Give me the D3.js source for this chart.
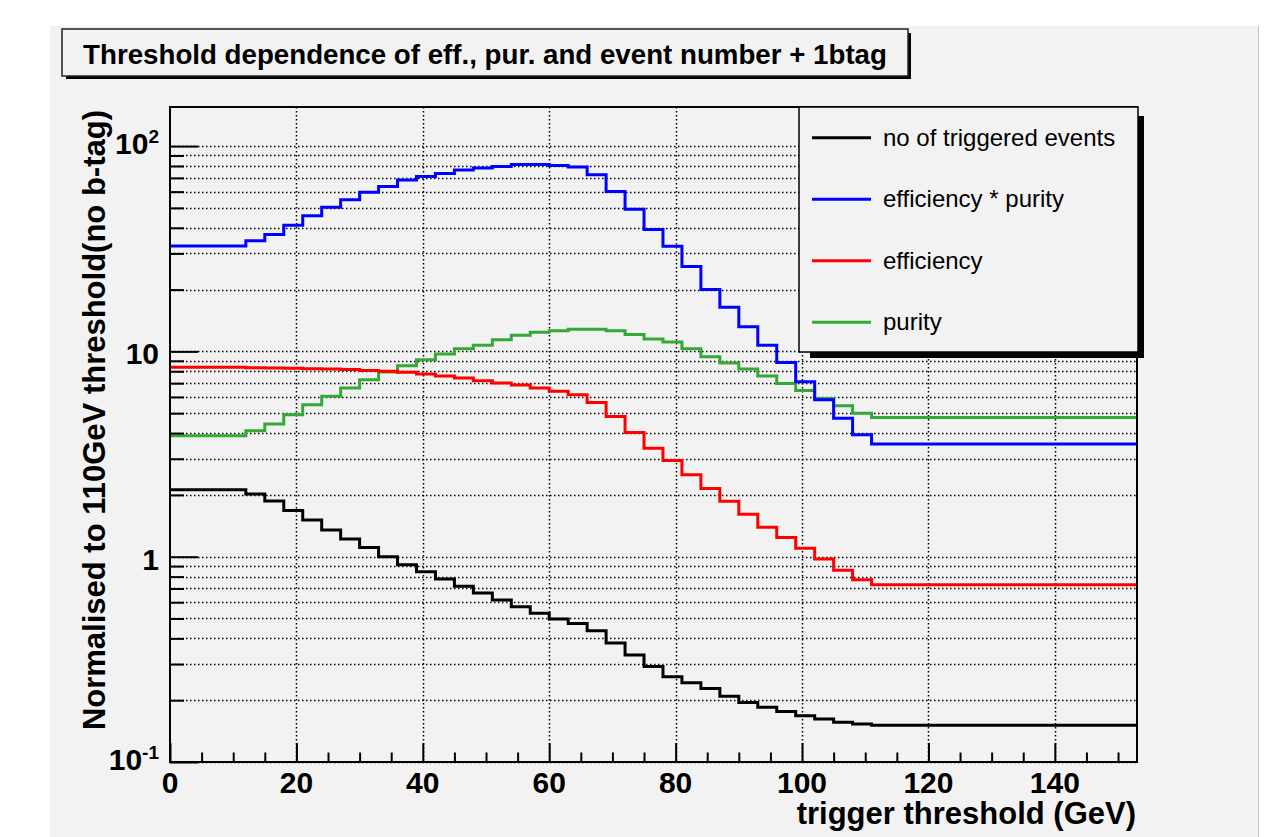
<!DOCTYPE html>
<html>
<head>
<meta charset="utf-8">
<script src="https://cdn.jsdelivr.net/npm/d3@7/dist/d3.min.js"></script>
<style>
	body { margin: 0; background: #fff; }
	svg { display: block; font-family: "Liberation Sans", Arial, Helvetica, sans-serif; }
</style>
</head>
<body>
<div class="graphic"></div>
<script>
// bin edges in GeV, first and last stretch are flat so they are one segment each
var binEdges = [0, 12, 15, 18, 21, 24, 27, 30, 33, 36, 39, 42, 45, 48, 51, 54, 57, 60, 63, 66,
	69, 72, 75, 78, 81, 84, 87, 90, 93, 96, 99, 102, 105, 108, 111, 153]

var nTriggered = [2.12, 2.02, 1.87, 1.68, 1.51, 1.35, 1.22, 1.11, 1.00, 0.914, 0.845, 0.778,
	0.717, 0.665, 0.615, 0.571, 0.530, 0.497, 0.473, 0.436, 0.380, 0.332, 0.292, 0.260, 0.243,
	0.228, 0.209, 0.195, 0.185, 0.176, 0.168, 0.162, 0.156, 0.153, 0.151]
var effPurity = [32.6, 34.6, 37.1, 41.1, 45.8, 50.3, 54.8, 59.5, 63.6, 68.3, 71.0, 73.6, 76.4,
	78.2, 79.6, 81.4, 81.4, 80.5, 79.1, 72.6, 60.1, 49.2, 39.2, 32.5, 25.9, 20.0, 16.4, 13.2,
	10.7, 8.84, 7.12, 5.82, 4.72, 3.93, 3.54]
var efficiency = [8.36, 8.32, 8.30, 8.28, 8.24, 8.20, 8.16, 8.08, 8.00, 7.91, 7.76, 7.59, 7.42,
	7.20, 7.02, 6.86, 6.64, 6.39, 6.15, 5.64, 4.82, 4.03, 3.37, 2.94, 2.51, 2.15, 1.86, 1.61,
	1.39, 1.24, 1.10, 0.974, 0.858, 0.773, 0.730]
var purity = [3.88, 4.11, 4.43, 4.92, 5.50, 6.04, 6.64, 7.28, 7.94, 8.52, 9.11, 9.71, 10.3,
	10.7, 11.4, 12.0, 12.4, 12.6, 12.8, 12.8, 12.6, 12.1, 11.5, 11.1, 10.3, 9.42, 8.77, 8.20,
	7.59, 6.98, 6.44, 5.90, 5.44, 4.99, 4.77]

var seriesNames = ['no of triggered events', 'efficiency * purity', 'efficiency', 'purity']
var seriesColors = ['#000000', '#0000ff', '#ff0000', '#36a836']

var xTickLabels = [0, 20, 40, 60, 80, 100, 120, 140]
var yTickValues = [0.1, 1, 10, 100]
var yTickBase = ['10', '1', '10', '10']
var yTickExp = ['-1', '', '', '2']

var titleText = 'Threshold dependence of eff., pur. and event number + 1btag'
var xTitle = 'trigger threshold (GeV)'
var yTitle = 'Normalised to 110GeV threshold(no b-tag)'

window.createGraphic = function() {
	var width = 1279
	var height = 837
	var frame = { left: 170, top: 107, right: 1137, bottom: 762 }
	var bg = '#f2f2f2'
	var svg = null
	var scaleX = null
	var scaleY = null

	function setupChart() {
		svg = d3.select('.graphic').append('svg')
			.attr('width', width)
			.attr('height', height)

		svg.append('rect')
			.attr('width', width).attr('height', height)
			.attr('fill', '#fff')

		// pad
		svg.append('rect')
			.attr('x', 50).attr('y', 26)
			.attr('width', 1208).attr('height', height - 26)
			.attr('fill', bg)
		svg.append('line')
			.attr('x1', 1258.5).attr('x2', 1258.5)
			.attr('y1', 26).attr('y2', height)
			.attr('stroke', '#c8c8c8')

		scaleX = d3.scaleLinear().domain([0, 153]).range([frame.left, frame.right])
		scaleY = d3.scaleLog().domain([0.1, 155]).range([frame.bottom, frame.top])
	}

	function drawGrid() {
		var g = svg.append('g')
			.attr('stroke', '#000')
			.attr('stroke-width', 1.5)
			.attr('stroke-dasharray', '1.5 2.5')

		var minorY = []
		yTickValues.forEach(function(d) {
			for (var k = 1; k < 10; k++) {
				if (d * k <= 100.001) minorY.push(d * k)
			}
		})

		g.selectAll('.gy').data(minorY).enter().append('line')
			.attr('x1', frame.left).attr('x2', frame.right)
			.attr('y1', function(d) { return Math.round(scaleY(d)) + 0.5 })
			.attr('y2', function(d) { return Math.round(scaleY(d)) + 0.5 })

		g.selectAll('.gx').data(xTickLabels.slice(1)).enter().append('line')
			.attr('x1', function(d) { return Math.round(scaleX(d)) + 0.5 })
			.attr('x2', function(d) { return Math.round(scaleX(d)) + 0.5 })
			.attr('y1', frame.top).attr('y2', frame.bottom)

		return minorY
	}

	function drawSeries() {
		var line = d3.line()
			.x(function(d) { return scaleX(d[0]) })
			.y(function(d) { return scaleY(d[1]) })
			.curve(d3.curveStepAfter)

		var all = [nTriggered, effPurity, efficiency, purity]
		// draw in the same order root did: black, green, red, blue on top roughly
		var order = [0, 3, 2, 1]
		order.forEach(function(i) {
			var vals = all[i]
			var pts = binEdges.map(function(e, j) {
				return [e, vals[Math.min(j, vals.length - 1)]]
			})
			svg.append('path')
				.attr('d', line(pts))
				.attr('fill', 'none')
				.attr('stroke', seriesColors[i])
				.attr('stroke-width', 3)
		})
	}

	function drawAxes(minorY) {
		svg.append('rect')
			.attr('x', frame.left).attr('y', frame.top)
			.attr('width', frame.right - frame.left)
			.attr('height', frame.bottom - frame.top)
			.attr('fill', 'none')
			.attr('stroke', '#000')
			.attr('stroke-width', 2)

		// y ticks point into the frame
		var yAxis = d3.axisLeft(scaleY)
			.tickValues(minorY)
			.tickSizeInner(-14)
			.tickSizeOuter(0)
			.tickFormat('')
		var ya = svg.append('g')
			.attr('transform', 'translate(' + frame.left + ',0)')
			.call(yAxis)
		ya.select('.domain').remove()
		ya.selectAll('.tick line')
			.attr('stroke-width', 2)
			.attr('x2', function(d) { return yTickValues.indexOf(d) >= 0 ? 28 : 14 })

		var minorX = scaleX.ticks(30).filter(function(d) { return d <= 153 })
		var xAxis = d3.axisBottom(scaleX)
			.tickValues(minorX)
			.tickSizeInner(-9.5)
			.tickSizeOuter(0)
			.tickFormat('')
		var xa = svg.append('g')
			.attr('transform', 'translate(0,' + frame.bottom + ')')
			.call(xAxis)
		xa.select('.domain').remove()
		xa.selectAll('.tick line')
			.attr('stroke-width', 2)
			.attr('y2', function(d) { return xTickLabels.indexOf(d) >= 0 ? -19 : -9.5 })

		// tick labels
		svg.selectAll('.xl').data(xTickLabels).enter().append('text')
			.attr('x', function(d) { return scaleX(d) })
			.attr('y', 793)
			.attr('text-anchor', 'middle')
			.attr('font-size', 30)
			.attr('font-weight', 'bold')
			.text(function(d) { return d })

		yTickValues.forEach(function(v, i) {
			var hasExp = yTickExp[i] !== ''
			var t = svg.append('text')
				.attr('x', 159)
				.attr('y', scaleY(v) + (hasExp ? 8 : 13))
				.attr('text-anchor', 'end')
				.attr('font-size', 30)
				.attr('font-weight', 'bold')
			t.append('tspan').text(yTickBase[i])
			if (hasExp) {
				t.append('tspan')
					.attr('font-size', 19)
					.attr('dy', -11)
					.text(yTickExp[i])
			}
		})

		svg.append('text')
			.attr('x', 1136).attr('y', 824)
			.attr('text-anchor', 'end')
			.attr('font-size', 31)
			.attr('font-weight', 'bold')
			.text(xTitle)

		svg.append('text')
			.attr('transform', 'translate(105,110) rotate(-90)')
			.attr('text-anchor', 'end')
			.attr('font-size', 31)
			.attr('font-weight', 'bold')
			.text(yTitle)
	}

	function drawLegend() {
		var lx = 799, ly = 107, lw = 339, lh = 245
		svg.append('rect')
			.attr('x', 810).attr('y', 116)
			.attr('width', 1144 - 810).attr('height', 358 - 116)
			.attr('fill', '#000')
		svg.append('rect')
			.attr('x', lx).attr('y', ly)
			.attr('width', lw).attr('height', lh)
			.attr('fill', bg)
			.attr('stroke', '#000')
			.attr('stroke-width', 1.5)

		var rows = svg.selectAll('.leg').data(seriesNames).enter().append('g')
			.attr('transform', function(d, i) { return 'translate(0,' + (ly + 30.7 + i * 61.5) + ')' })
		rows.append('line')
			.attr('x1', 812).attr('x2', 871)
			.attr('stroke', function(d, i) { return seriesColors[i] })
			.attr('stroke-width', 3)
		rows.append('text')
			.attr('x', 883).attr('y', 8)
			.attr('font-size', 24)
			.text(function(d) { return d })
	}

	function drawTitle() {
		svg.append('rect')
			.attr('x', 66).attr('y', 33)
			.attr('width', 911 - 66).attr('height', 79 - 33)
			.attr('fill', '#000')
		svg.append('rect')
			.attr('x', 62).attr('y', 29)
			.attr('width', 908 - 62).attr('height', 76 - 29)
			.attr('fill', bg)
			.attr('stroke', '#222')
			.attr('stroke-width', 1.5)
		svg.append('text')
			.attr('x', 485).attr('y', 64)
			.attr('text-anchor', 'middle')
			.attr('font-size', 27.7)
			.attr('font-weight', 'bold')
			.text(titleText)
	}

	function init() {
		setupChart()
		var minorY = drawGrid()
		drawSeries()
		drawAxes(minorY)
		drawLegend()
		drawTitle()
	}

	init()
	return {}
}

createGraphic()
</script>
</body>
</html>
